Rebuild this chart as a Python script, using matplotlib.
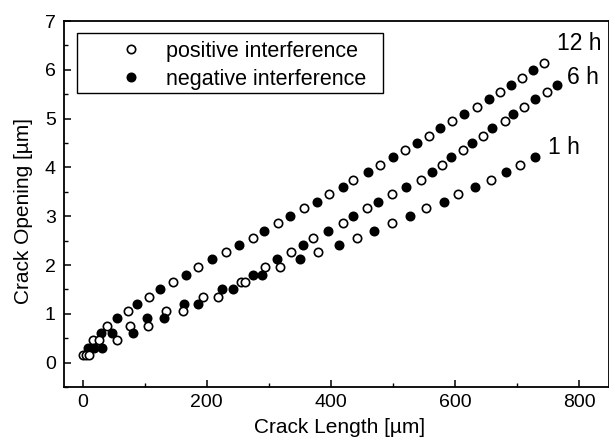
import matplotlib
matplotlib.use("Agg")
import matplotlib.pyplot as plt
from matplotlib.ticker import MultipleLocator
from matplotlib.patches import Rectangle

plt.rcParams['font.family'] = ['Liberation Sans', 'DejaVu Sans']

# ---- data ----
x12_pos = [0, 16, 40, 73, 107, 145, 186, 231, 274, 315, 357, 397, 435, 479, 519, 558, 595, 635, 673, 708, 744]
y12_pos = [0.16, 0.46, 0.75, 1.06, 1.35, 1.65, 1.96, 2.26, 2.56, 2.86, 3.16, 3.45, 3.75, 4.05, 4.36, 4.65, 4.95, 5.24, 5.55, 5.84, 6.14]
x12_neg = [8, 29, 55, 87, 124, 166, 208, 252, 292, 334, 377, 419, 460, 500, 539, 576, 615, 655, 690, 726]
y12_neg = [0.31, 0.60, 0.91, 1.21, 1.51, 1.80, 2.12, 2.41, 2.70, 3.01, 3.30, 3.60, 3.90, 4.21, 4.50, 4.81, 5.10, 5.40, 5.70, 6.00]

x6_pos = [5, 27, 76, 135, 194, 255, 294, 335, 371, 419, 458, 499, 545, 579, 612, 645, 681, 711, 748]
y6_pos = [0.16, 0.46, 0.75, 1.06, 1.35, 1.65, 1.96, 2.26, 2.56, 2.86, 3.16, 3.45, 3.75, 4.05, 4.36, 4.65, 4.95, 5.24, 5.55]
x6_neg = [18, 48, 103, 163, 224, 274, 313, 355, 395, 435, 476, 521, 563, 594, 627, 660, 694, 729, 765]
y6_neg = [0.31, 0.60, 0.91, 1.21, 1.51, 1.80, 2.12, 2.41, 2.70, 3.01, 3.30, 3.60, 3.90, 4.21, 4.50, 4.81, 5.10, 5.40, 5.70]

x1_pos = [11, 56, 105, 161, 218, 262, 318, 379, 442, 498, 553, 605, 658, 705]
y1_pos = [0.16, 0.46, 0.75, 1.06, 1.35, 1.65, 1.96, 2.26, 2.56, 2.86, 3.16, 3.45, 3.75, 4.05]
x1_neg = [32, 81, 131, 186, 242, 289, 350, 413, 469, 527, 582, 632, 682, 729]
y1_neg = [0.31, 0.60, 0.91, 1.21, 1.51, 1.80, 2.12, 2.41, 2.70, 3.01, 3.30, 3.60, 3.90, 4.21]

series_labels = ["12 h", "6 h", "1 h"]
label_x = [764, 780, 750]
label_y = [6.55, 5.85, 4.40]
legend_labels = ["positive interference", "negative interference"]

# ---- figure ----
fig = plt.figure(figsize=(6.09, 4.42), dpi=100)
ax = fig.add_axes([0.1051, 0.1242, 1.0 - 0.1051, 0.9523 - 0.1242])

ms = 6.0
open_kw = dict(linestyle='none', marker='o', markersize=ms, markerfacecolor='white',
               markeredgecolor='black', markeredgewidth=1.2)
fill_kw = dict(linestyle='none', marker='o', markersize=ms, markerfacecolor='black',
               markeredgecolor='black', markeredgewidth=1.2)

h_pos, = ax.plot(x12_pos, y12_pos, **open_kw)
h_neg, = ax.plot(x12_neg, y12_neg, **fill_kw)
ax.plot(x6_pos, y6_pos, **open_kw)
ax.plot(x6_neg, y6_neg, **fill_kw)
ax.plot(x1_pos, y1_pos, **open_kw)
ax.plot(x1_neg, y1_neg, **fill_kw)

for lab, lx, ly in zip(series_labels, label_x, label_y):
    ax.text(lx, ly, lab, fontsize=16.5, ha='left', va='center', color='black')

ax.set_xlim(-30, 848)
ax.set_ylim(-0.5, 7)
ax.xaxis.set_major_locator(MultipleLocator(200))
ax.xaxis.set_minor_locator(MultipleLocator(100))
ax.yaxis.set_major_locator(MultipleLocator(1))
ax.yaxis.set_minor_locator(MultipleLocator(0.5))
ax.tick_params(which='major', direction='in', length=5, width=1.1, labelsize=14)
ax.tick_params(axis='x', which='major', pad=5)
ax.tick_params(axis='y', which='major', pad=6)
ax.tick_params(which='minor', direction='in', length=3, width=1.0)
ax.tick_params(top=False, right=False)
for s in ax.spines.values():
    s.set_linewidth(1.3)

ax.set_xlabel("Crack Length [µm]", fontsize=15)
ax.set_ylabel("Crack Opening [µm]", fontsize=15)
ax.xaxis.set_label_coords(0.506, -0.085)
ax.yaxis.set_label_coords(-0.056, 0.48)

# legend frame box and entries
box_l, box_r, box_b, box_t = 0.0239, 0.585, 0.8036, 0.9675
ax.add_patch(Rectangle((box_l, box_b), box_r - box_l, box_t - box_b, transform=ax.transAxes,
                       facecolor='white', edgecolor='black', linewidth=1.0, zorder=4))
leg = ax.legend([h_pos, h_neg], legend_labels, loc='upper left', numpoints=1,
                bbox_to_anchor=(0.083, 0.946), fontsize=15.5, frameon=False,
                handletextpad=0.65, borderpad=0.0, labelspacing=0.32, handlelength=2.0,
                borderaxespad=0)
leg.set_zorder(5)

fig.savefig("out.png", dpi=100)
